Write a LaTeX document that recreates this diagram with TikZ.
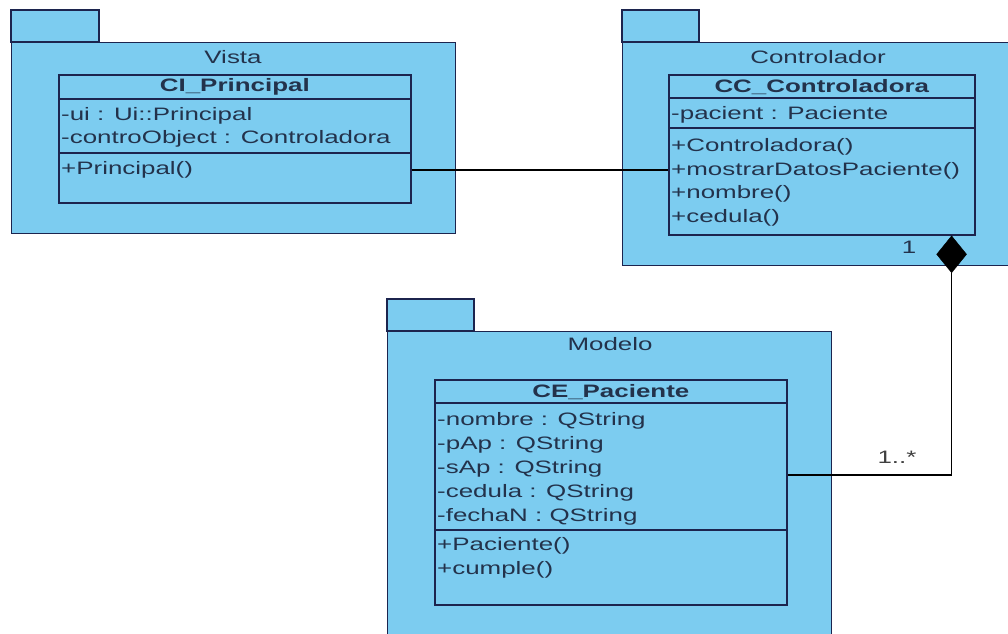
\documentclass[tikz,border=0pt]{standalone}
\usepackage{fontspec}
\newfontfamily\umlfont[FakeStretch=1.44]{Liberation Sans}
\usetikzlibrary{shapes.geometric,positioning}

\definecolor{pkgfill}{RGB}{124,204,240}
\definecolor{umlline}{RGB}{28,36,78}
\definecolor{umltext}{RGB}{35,50,75}

\tikzset{
    pkg/.style={draw=umlline, fill=pkgfill, line width=1.4pt},
    pkgbody/.style={pkg, anchor=north west, inner sep=0pt},
    classbox/.style={draw=umlline, line width=1.6pt, anchor=north west, inner sep=0pt},
    sepline/.style={draw=umlline, line width=1.4pt},
    row/.style={anchor=west, inner xsep=3pt, inner ysep=1pt, text=umltext},
    ctitle/.style={inner sep=0pt, text=umltext, font=\umlfont\fontsize{18}{20}\selectfont\bfseries},
    assoc/.style={draw=black, line width=1.3pt},
}

\begin{document}
\begin{tikzpicture}[x=1pt, y=-1pt, font=\umlfont\fontsize{18}{20}\selectfont]
    \useasboundingbox (0,0) rectangle (1008,633);

    % paquete Vista
    \draw[pkg] (11,10) rectangle (99,42);
    \node[pkgbody, minimum width=444pt, minimum height=191pt] (vista) at (11,42) {};
    \node[text=umltext] (vistaT) at (233,57) {Vista};
    \node[classbox, minimum width=352pt, minimum height=128pt] (prin) at (58,74) {};
    \node[ctitle] (prinT) at ([yshift=-13pt]prin.north) {CI\_Principal};
    \draw[sepline] ([yshift=-25pt]prin.north west) -- ([yshift=-25pt]prin.north east);
    \draw[sepline] ([yshift=-79pt]prin.north west) -- ([yshift=-79pt]prin.north east);
    \foreach \t [count=\i] in {-ui : Ui::Principal, -controObject : Controladora}
        \node[row] (prinA\i) at ([yshift={-42pt-(\i-1)*23pt}]prin.north west) {\t};
    \node[row] (prinO1) at ([yshift=-96pt]prin.north west) {+Principal()};

    % paquete Controlador
    \draw[pkg] (622,10) rectangle (699,42);
    \node[pkgbody, minimum width=400pt, minimum height=223pt] (ctrlpkg) at (622,42) {};
    \node[text=umltext] (ctrlT) at (818,57) {Controlador};
    \node[classbox, minimum width=306pt, minimum height=160pt] (ctrl) at (668,74) {};
    \node[ctitle] (ctrlN) at ([yshift=-13pt]ctrl.north) {CC\_Controladora};
    \draw[sepline] ([yshift=-24pt]ctrl.north west) -- ([yshift=-24pt]ctrl.north east);
    \draw[sepline] ([yshift=-54pt]ctrl.north west) -- ([yshift=-54pt]ctrl.north east);
    \node[row] (ctrlA1) at ([yshift=-41pt]ctrl.north west) {-pacient : Paciente};
    \foreach \t [count=\i] in {+Controladora(), +mostrarDatosPaciente(), +nombre(), +cedula()}
        \node[row] (ctrlO\i) at ([yshift={-73pt-(\i-1)*23.5pt}]ctrl.north west) {\t};

    % paquete Modelo
    \draw[pkg] (387,299) rectangle (474,331);
    \node[pkgbody, minimum width=444pt, minimum height=320pt] (modelo) at (387,331) {};
    \node[text=umltext] (modeloT) at (610,344) {Modelo};
    \node[classbox, minimum width=352pt, minimum height=225pt] (pac) at (434,379) {};
    \node[ctitle] (pacT) at ([yshift=-13pt]pac.north) {CE\_Paciente};
    \draw[sepline] ([yshift=-24pt]pac.north west) -- ([yshift=-24pt]pac.north east);
    \draw[sepline] ([yshift=-151pt]pac.north west) -- ([yshift=-151pt]pac.north east);
    \foreach \t [count=\i] in {-nombre : QString, -pAp : QString, -sAp : QString, -cedula : QString, -fechaN : QString}
        \node[row] (pacA\i) at ([yshift={-42pt-(\i-1)*24pt}]pac.north west) {\t};
    \foreach \t [count=\i] in {+Paciente(), +cumple()}
        \node[row] (pacO\i) at ([yshift={-167pt-(\i-1)*24pt}]pac.north west) {\t};

    % relaciones
    \draw[assoc] (prin.east |- prinO1) -- (ctrl.west |- prinO1);
    \node[diamond, fill=black, draw=black, minimum width=30pt, minimum height=37pt,
          inner sep=0pt, anchor=north] (comp) at ([xshift=-24pt]ctrl.south east) {};
    \coordinate (pacend) at ([yshift=-96pt]pac.north east);
    \draw[assoc] (comp.south) |- (pacend);
    \node[text=umltext] (multUno) at (909,247) {1};
    \node[text=black!75] (multMuchos) at (897,457) {1..*};
\end{tikzpicture}
\end{document}
